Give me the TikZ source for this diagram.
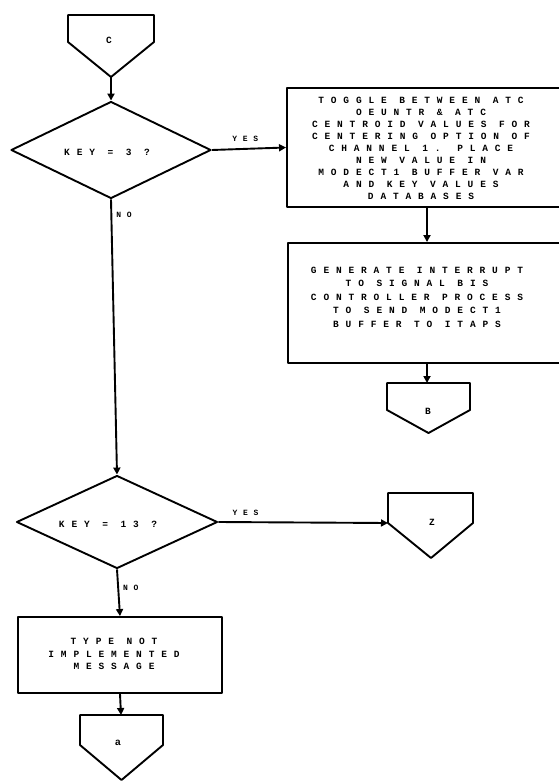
\documentclass[tikz,border=0pt]{standalone}
\usepackage{fontspec}
\newfontfamily\scanfont[LetterSpace=72]{Liberation Mono Bold}
\newfontfamily\labelfont{Liberation Sans Bold}
\usetikzlibrary{shapes.geometric,arrows.meta}
\begin{document}
\begin{tikzpicture}[x=1pt,y=-1pt,
  line width=1.9pt, line join=round,
  txt/.style={font=\scanfont\fontsize{9.5}{12}\selectfont, align=center, inner sep=0pt},
  procbox/.style={draw, rectangle, inner sep=0pt},
  decision/.style={draw, diamond, inner sep=0pt},
  arr/.style={-{Triangle[length=7pt,width=7pt]}},
  lbl/.style={font=\scanfont\fontsize{8}{9}\selectfont, inner sep=0pt}]
\useasboundingbox (0,0) rectangle (559,781);

% top off-page connector C
\draw (68,15) -- (154,15) -- (154,42) -- (111,77) -- (68,42) -- cycle;
\node[txt] (cl) at (109,40) {C};
\coordinate (c-s) at (111,77);

% decision 1
\node[decision, minimum width=200pt, minimum height=97pt] (d1) at (111,150) {};
\node[txt] (d1t) at (107,152) {KEY = 3 ?};

% box 1
\node[procbox, minimum width=278pt, minimum height=119pt] (b1) at (426,147.5) {};
\node[txt] (b1t) at (421,148) {TOGGLE BETWEEN ATC\\OEUNTR \& ATC\\CENTROID VALUES FOR\\CENTERING OPTION OF\\CHANNEL 1. PLACE\\NEW VALUE IN\\MODECT1 BUFFER VAR\\AND KEY VALUES\\DATABASES};

% box 2
\node[procbox, minimum width=277pt, minimum height=120pt] (b2) at (426.5,303) {};
\node[txt, font=\scanfont\fontsize{9.5}{13.5}\selectfont] (b2t) at (417,297) {GENERATE INTERRUPT\\TO SIGNAL BIS\\CONTROLLER PROCESS\\TO SEND MODECT1\\BUFFER TO ITAPS};

% connector B
\draw (387,383) -- (470,383) -- (470,410) -- (428.5,433) -- (387,410) -- cycle;
\coordinate (bc-n) at (427,383);
\node[txt] (bl) at (428,411) {B};

% decision 2
\node[decision, minimum width=201pt, minimum height=93pt] (d2) at (117,522) {};
\node[txt] (d2t) at (108,524) {KEY = 13 ?};

% connector Z
\draw (388,493) -- (473,493) -- (473,523) -- (431,558) -- (388,523) -- cycle;
\coordinate (zc-w) at (388,523);
\node[txt] (zl) at (432,522) {Z};

% box 3
\node[procbox, minimum width=204pt, minimum height=76pt] (b3) at (120,655) {};
\node[txt, font=\scanfont\fontsize{9.5}{12.5}\selectfont] (b3t) at (114,654) {TYPE NOT\\IMPLEMENTED\\MESSAGE};

% connector a
\draw (80,715) -- (163,715) -- (163,745) -- (121.5,780) -- (80,745) -- cycle;
\coordinate (ac-n) at (121,715);
\node[txt, font=\labelfont\fontsize{10}{11}\selectfont] (al) at (118,743) {a};

% connectors
\draw[arr] (c-s) -- (d1.north);
\draw[arr] (d1.east) -- (b1.west) node[lbl, pos=0.45, above=6pt] {YES};
\draw[arr] (b1.south -| bc-n) -- (b2.north -| bc-n);
\draw[arr] (b2.south -| bc-n) -- (bc-n);
\draw[arr] (d1.south) -- (d2.north) node[lbl, pos=0.055, right=4pt] {NO};
\draw[arr] (d2.east) -- (zc-w) node[lbl, pos=0.16, above=6pt] {YES};
\draw[arr] (d2.south) -- (b3.north) node[lbl, pos=0.4, right=4pt] {NO};
\draw[arr] (b3.south) -- (ac-n);
\end{tikzpicture}
\end{document}
